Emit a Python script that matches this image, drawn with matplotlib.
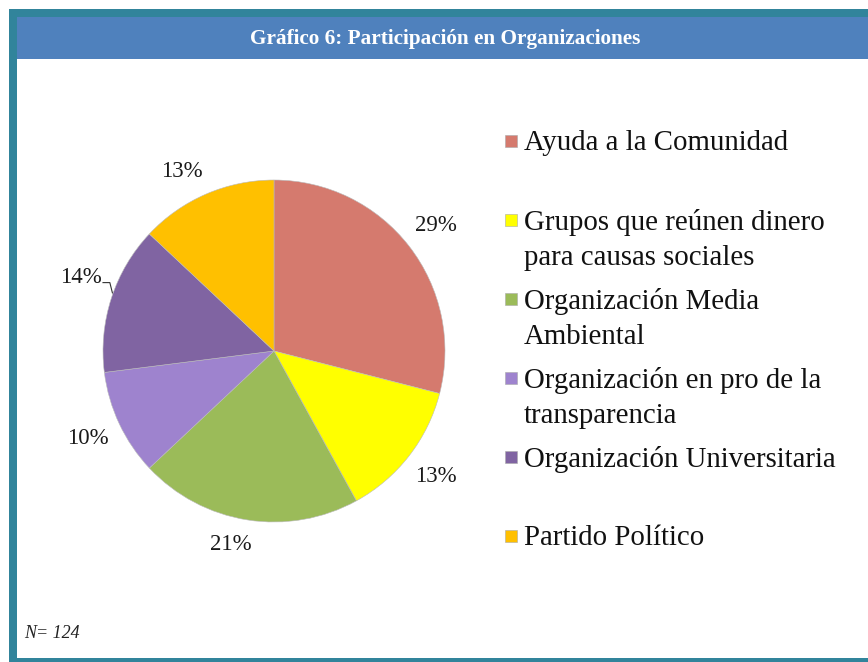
import numpy as np
import matplotlib
matplotlib.use("Agg")
from matplotlib import pyplot as plt
from matplotlib.patches import Rectangle

# data
categories = ["Ayuda a la Comunidad",
              "Grupos que reúnen dinero\npara causas sociales",
              "Organización Media\nAmbiental",
              "Organización en pro de la\ntransparencia",
              "Organización Universitaria",
              "Partido Político"]
values = [29, 13, 21, 10, 14, 13]
colors = ["#D57A6E", "#FFFF00", "#9BBB59", "#9E83CE", "#8064A2", "#FFC000"]
title = "Gráfico 6: Participación en Organizaciones"
note = "N= 124"

W, H = 868, 662
plt.rcParams['font.family'] = ['Liberation Serif', 'DejaVu Serif']
fig = plt.figure(figsize=(W / 100, H / 100), dpi=100)

def fx(x): return x / W
def fy(y): return 1 - y / H

def rect(x0, y0, x1, y1, color, z=-10, **kw):
    p = Rectangle((fx(x0), fy(y1)), (x1 - x0) / W, (y1 - y0) / H, transform=fig.transFigure,
                  facecolor=color, edgecolor=kw.pop("edgecolor", "none"), zorder=z, **kw)
    fig.patches.append(p)
    return p

# frame and title bar
rect(9, 9, 868, 662, "#31849B", z=-12)
rect(17, 17, 868, 658, "white", z=-11)
rect(17, 17, 868, 59, "#4F81BD", z=-10)
fig.text(fx(445), fy(39), title, color="white", fontsize=15.3, fontweight="bold",
         ha="center", va="center")

# pie
cx, cy, r = 274, 351, 171
S = 2 * 1.3 * r
ax = fig.add_axes([fx(cx - S / 2), fy(cy + S / 2), S / W, S / H])
ax.set_zorder(5)
ax.patch.set_visible(False)
wedges, _, autotexts = ax.pie(values, colors=colors, startangle=90, counterclock=False,
                              autopct=lambda p: f"{p:.0f}%", pctdistance=1.2,
                              wedgeprops=dict(linewidth=0.4, edgecolor="#BBBBBB"),
                              textprops=dict(fontsize=16.5, color="#1A1A1A"))
ax.set_xlim(-1.3, 1.3)
ax.set_ylim(-1.3, 1.3)
ax.set_aspect("equal")
ax.axis("off")

# nudge a few labels, leader line for the 14% one
autotexts[4].set_position((-1.13, 0.43))
ax.plot([-1.0, -0.96, -0.945], [0.40, 0.40, 0.34], color="#333333", lw=0.8)
autotexts[2].set_position((-0.25, -1.13))
autotexts[5].set_position((-0.54, 1.05))

# legend drawn by hand
lx, ly0, step = 505, 141, 79
for i, (lab, col) in enumerate(zip(categories, colors)):
    y = ly0 + i * step
    rect(lx, y - 6, lx + 12, y + 6, col, z=2, edgecolor="#AAAAAA", linewidth=0.4)
    fig.text(fx(524), fy(y - 11), lab, fontsize=20.8, ha="left", va="top",
             color="#111111", linespacing=1.44)

fig.text(fx(24), fy(634), note, fontsize=13, style="italic", ha="left", va="center", color="#222222")

fig.savefig("out.png", dpi=100)
